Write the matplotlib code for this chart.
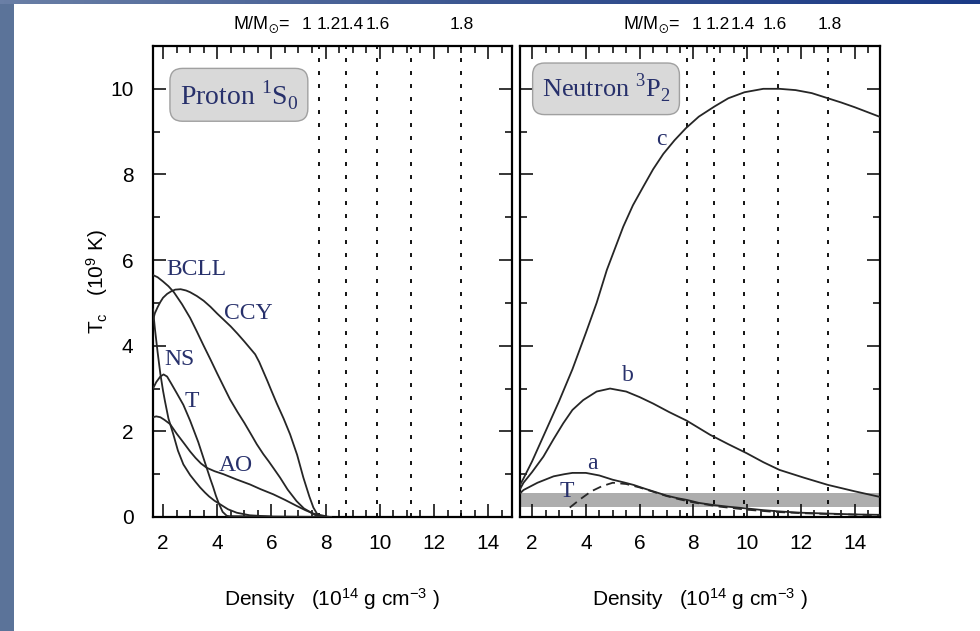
import numpy as np
import matplotlib
matplotlib.use("Agg")
import matplotlib.pyplot as plt
import matplotlib.transforms as mtransforms
from matplotlib.ticker import MultipleLocator
from matplotlib.colors import LinearSegmentedColormap

plt.rcParams.update({
    "font.family": ["Liberation Sans", "DejaVu Sans"],
    "mathtext.fontset": "custom",
    "mathtext.rm": "Liberation Serif",
    "mathtext.sf": "Liberation Sans",
    "mathtext.fallback": "stixsans",
})

# ---------------- proton 1S0 gap curves (density in 1e14 g/cm3, Tc in 1e9 K)
bcll_rho = [1.63, 1.8, 2.0, 2.2, 2.4, 2.7, 3.0, 3.25, 3.5, 3.75, 4.0, 4.25, 4.47, 4.75, 5.0, 5.25,
            5.46, 5.7, 5.9, 6.1, 6.32, 6.6, 6.93, 7.2, 7.42, 7.6, 7.75, 8.2]
bcll_tc = [5.65, 5.6, 5.5, 5.39, 5.25, 4.97, 4.65, 4.33, 4.0, 3.68, 3.35, 3.03, 2.75, 2.45, 2.2, 1.93,
           1.7, 1.47, 1.3, 1.12, 0.92, 0.64, 0.37, 0.2, 0.12, 0.05, 0.02, 0.0]

ccy_rho = [1.63, 1.7, 1.8, 1.9, 2.0, 2.15, 2.3, 2.45, 2.65, 2.85, 3.0, 3.25, 3.5, 3.75, 4.0, 4.25, 4.5,
           4.75, 5.0, 5.2, 5.4, 5.55, 5.7, 5.85, 6.0, 6.2, 6.45, 6.69, 6.95, 7.18, 7.4, 7.55, 7.68, 7.8, 8.2]
ccy_tc = [4.6, 4.76, 4.9, 5.02, 5.12, 5.21, 5.27, 5.31, 5.32, 5.29, 5.25, 5.16, 5.05, 4.91, 4.75, 4.6, 4.45,
          4.28, 4.1, 3.95, 3.8, 3.62, 3.4, 3.18, 2.95, 2.65, 2.3, 1.93, 1.45, 0.92, 0.48, 0.22, 0.08, 0.02, 0.0]

ns_rho = [1.63, 1.7, 1.8, 1.9, 2.0, 2.07, 2.2, 2.38, 2.55, 2.75, 3.0, 3.2, 3.37, 3.55, 3.7, 3.9, 4.1,
          4.4, 4.72, 5.2, 6.0]
ns_tc = [4.85, 4.4, 3.85, 3.35, 2.95, 2.71, 2.3, 1.93, 1.55, 1.23, 0.98, 0.82, 0.69, 0.57, 0.48, 0.38, 0.30,
         0.18, 0.1, 0.04, 0.01]

t_rho = [1.63, 1.75, 1.9, 2.02, 2.15, 2.3, 2.5, 2.75, 3.0, 3.15, 3.3, 3.45, 3.61, 3.75, 3.85, 3.95, 4.05,
         4.2, 4.35, 4.6]
t_tc = [3.0, 3.15, 3.28, 3.33, 3.28, 3.12, 2.9, 2.62, 2.25, 2.0, 1.75, 1.46, 1.15, 0.88, 0.7, 0.5, 0.33,
        0.12, 0.03, 0.0]

ao_rho = [1.63, 1.75, 1.9, 2.05, 2.26, 2.5, 2.8, 3.0, 3.2, 3.4, 3.61, 3.9, 4.23, 4.7, 5.21, 5.6, 6.07,
          6.5, 6.93, 7.25, 7.55, 8.0]
ao_tc = [2.33, 2.35, 2.33, 2.27, 2.17, 1.95, 1.7, 1.53, 1.38, 1.25, 1.15, 1.07, 1.0, 0.88, 0.76, 0.65, 0.53,
         0.4, 0.26, 0.16, 0.08, 0.02]

# ---------------- neutron 3P2 gap curves
c_rho = [1.55, 1.68, 2.0, 2.5, 3.0, 3.5, 4.0, 4.4, 4.78, 5.1, 5.39, 5.75, 6.14, 6.5, 6.88, 7.3, 7.72,
         8.2, 8.79, 9.3, 9.9, 10.6, 11.2, 11.8, 12.4, 13.0, 13.5, 14.0, 14.5, 15.0]
c_tc = [0.75, 0.9, 1.3, 2.0, 2.7, 3.45, 4.3, 5.0, 5.77, 6.3, 6.78, 7.28, 7.72, 8.12, 8.48, 8.8, 9.08,
        9.35, 9.59, 9.78, 9.92, 10.0, 10.0, 9.97, 9.9, 9.78, 9.68, 9.57, 9.45, 9.33]

b_rho = [1.55, 1.68, 2.0, 2.42, 2.8, 3.16, 3.5, 3.9, 4.4, 4.9, 5.5, 6.0, 6.5, 7.1, 7.75, 8.62, 9.3,
         9.98, 10.6, 11.2, 12.1, 13.0, 14.0, 15.0]
b_tc = [0.65, 0.8, 1.05, 1.41, 1.82, 2.19, 2.5, 2.73, 2.93, 3.0, 2.93, 2.8, 2.65, 2.45, 2.25, 1.92, 1.7,
        1.49, 1.28, 1.1, 0.92, 0.75, 0.6, 0.46]

a_rho = [1.55, 1.68, 2.2, 2.8, 3.2, 3.5, 4.0, 4.5, 5.0, 5.4, 5.77, 6.1, 6.5, 7.0, 7.4, 7.75, 8.2, 8.74,
         9.3, 9.98, 10.6, 11.2, 12.0, 13.0, 14.0, 15.0]
a_tc = [0.55, 0.63, 0.8, 0.95, 1.0, 1.03, 1.03, 0.97, 0.87, 0.81, 0.75, 0.68, 0.6, 0.5, 0.44, 0.4, 0.33, 0.28,
        0.24, 0.2, 0.16, 0.13, 0.1, 0.08, 0.06, 0.05]

tn_rho = [3.4, 3.8, 4.2, 4.6, 5.0, 5.5, 6.0, 6.5, 7.0, 7.5, 8.0, 8.5, 9.0, 10.0, 11.0, 12.0, 13.0, 15.0]
tn_tc = [0.22, 0.42, 0.6, 0.72, 0.8, 0.77, 0.69, 0.59, 0.49, 0.41, 0.34, 0.29, 0.24, 0.17, 0.12, 0.09, 0.07, 0.04]

# central densities of stars with given masses
mass_rho = [7.75, 8.75, 9.9, 11.15, 13.0]
mass_labels = ["1", "1.2", "1.4", "1.6", "1.8"]
mass_label_rho_left = [7.3, 8.12, 8.97, 9.93, 13.03]
mass_label_rho_right = [8.1, 8.91, 9.84, 11.03, 13.08]

# observational band for the neutron 3P2 gap
band_lo, band_hi = 0.24, 0.55

xticks = [2, 4, 6, 8, 10, 12, 14]
yticks = [0, 2, 4, 6, 8, 10]

curve_color = "#262626"
label_color = "#27306b"

fig = plt.figure(figsize=(9.8, 6.31), dpi=100)
fig.patch.set_facecolor("white")

# decorative frame strips
ax_left = fig.add_axes([0, 0, 14 / 980, 1])
ax_left.add_patch(plt.Rectangle((0, 0), 1, 1, color="#5b7399", transform=ax_left.transAxes))
ax_left.set_axis_off()
ax_top = fig.add_axes([0, 1 - 4 / 631, 1, 4 / 631])
grad = np.linspace(0, 1, 256)[None, :]
cmap = LinearSegmentedColormap.from_list("band", ["#6a7fa6", "#3a5590", "#1b3a86"])
ax_top.imshow(grad, aspect="auto", cmap=cmap, extent=[0, 1, 0, 1])
ax_top.set_axis_off()

ax1 = fig.add_axes([153 / 980, 1 - 517 / 631, 359 / 980, 471 / 631])
ax2 = fig.add_axes([520 / 980, 1 - 517 / 631, 360 / 980, 471 / 631])


def style_axes(ax, xlim):
    ax.set_xlim(*xlim)
    ax.set_ylim(0, 11)
    ax.set_xticks(xticks)
    ax.set_yticks(yticks)
    ax.xaxis.set_minor_locator(MultipleLocator(0.5))
    ax.yaxis.set_minor_locator(MultipleLocator(1))
    ax.tick_params(which="both", direction="in", top=True, right=True,
                   width=1.1, labelsize=15, colors="black")
    ax.tick_params(which="major", length=9.5)
    ax.tick_params(which="minor", length=5)
    ax.tick_params(axis="x", pad=12)
    ax.tick_params(axis="y", pad=14)
    for s in ax.spines.values():
        s.set_linewidth(1.6)
    for r in mass_rho:
        ax.axvline(r, color="black", lw=1.3, ls=(0, (2.2, 5.0)), zorder=1)
    ax.set_xlabel(r"Density   (10$\mathsf{^{14}}$ g cm$\mathsf{^{-3}}$ )", fontsize=15, labelpad=24)


def mass_header(ax, label_rho):
    tr = mtransforms.blended_transform_factory(ax.transData, ax.transAxes)
    ax.text(label_rho[0] - 1.65, 1.046, r"M/M$_{\odot}$=", transform=tr,
            ha="center", va="center", fontsize=13)
    for r, lab in zip(label_rho, mass_labels):
        ax.text(r, 1.046, lab, transform=tr, ha="center", va="center", fontsize=12.5)


style_axes(ax1, (1.63, 14.88))
style_axes(ax2, (1.55, 14.94))
ax2.tick_params(labelleft=False)
ax1.set_ylabel(r"T$_\mathsf{c}$   (10$\mathsf{^9}$ K)", fontsize=15, labelpad=0)

mass_header(ax1, mass_label_rho_left)
mass_header(ax2, mass_label_rho_right)

# proton panel
for rho, tc in [(bcll_rho, bcll_tc), (ccy_rho, ccy_tc), (ns_rho, ns_tc),
                (t_rho, t_tc), (ao_rho, ao_tc)]:
    ax1.plot(rho, tc, color=curve_color, lw=1.3, zorder=3, solid_joinstyle="round")
ax1.plot([4.5, 8.2], [0.02, 0.0], color=curve_color, lw=1.3, zorder=3)

serif = ["Liberation Serif", "DejaVu Serif"]
for txt, x, y in [("BCLL", 3.24, 5.79), ("CCY", 5.14, 4.75), ("NS", 2.6, 3.67),
                  ("T", 3.06, 2.69), ("AO", 4.69, 1.21)]:
    ax1.text(x, y, txt, ha="center", va="center", fontsize=17, family=serif,
             color=label_color, zorder=4)

box = dict(boxstyle="round,pad=0.35,rounding_size=0.45", fc="#d9d9d9", ec="#a0a0a0", lw=1.0)
ax1.text(4.8, 9.86, r"Proton $^{1}$S$_{0}$", ha="center", va="center", fontsize=20,
         family=serif, color=label_color, bbox=box, zorder=5)

# neutron panel
ax2.axhspan(band_lo, band_hi, color="#adadad", lw=0, zorder=0.5)
for rho, tc in [(c_rho, c_tc), (b_rho, b_tc), (a_rho, a_tc)]:
    ax2.plot(rho, tc, color=curve_color, lw=1.3, zorder=3, solid_joinstyle="round")
ax2.plot(tn_rho, tn_tc, color=curve_color, lw=1.3, ls=(0, (5, 3)), zorder=3)

for txt, x, y in [("c", 6.82, 8.81), ("b", 5.57, 3.3), ("a", 4.26, 1.25), ("T", 3.29, 0.59)]:
    ax2.text(x, y, txt, ha="center", va="center", fontsize=17, family=serif,
             color=label_color, zorder=4)

ax2.text(4.75, 10.0, r"Neutron $^{3}$P$_{2}$", ha="center", va="center", fontsize=19,
         family=serif, color=label_color, bbox=box, zorder=5)

fig.savefig("out.png", dpi=100)
